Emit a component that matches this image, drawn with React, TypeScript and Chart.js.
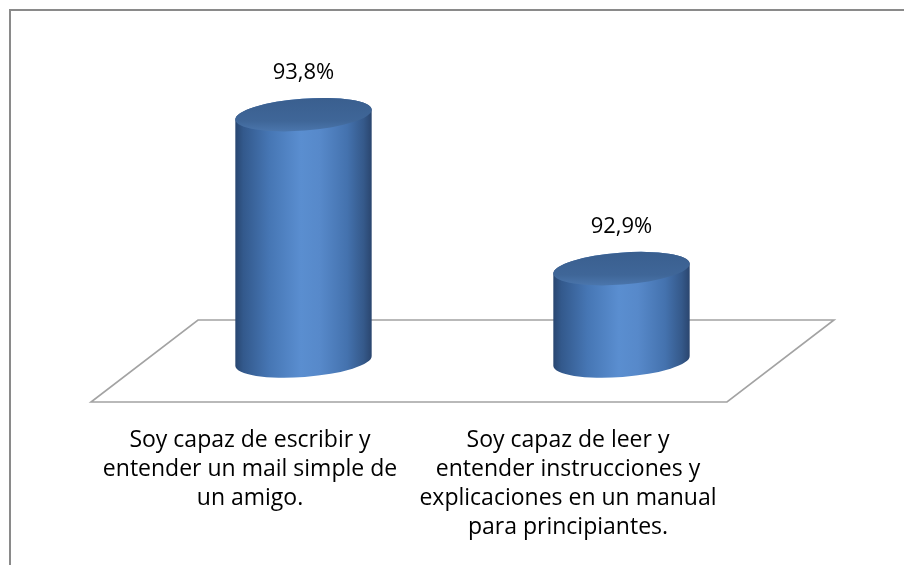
import React, { useEffect, useRef } from "react";
import { Chart, registerables } from "chart.js";

Chart.register(...registerables);

const categories: string[][] = [
  ["Soy capaz de escribir y", "entender un mail simple de", "un amigo."],
  ["Soy capaz de leer y", "entender instrucciones y", "explicaciones en un manual", "para principiantes."],
];
const values: number[] = [93.8, 92.9];
const valueLabels: string[] = ["93,8%", "92,9%"];

const Y_MIN = 92.36;
const Y_MAX = 94.4;
const DEPTH_X = 107;
const DEPTH_Y = -82;
const FONT = "'Open Sans', Lato, sans-serif";

const framePlugin = {
  id: "frame",
  beforeDraw(chart: any) {
    const ctx = chart.ctx;
    ctx.save();
    ctx.fillStyle = "#ffffff";
    ctx.fillRect(0, 0, chart.width, chart.height);
    ctx.strokeStyle = "#8a8a8a";
    ctx.lineWidth = 2;
    ctx.strokeRect(10, 10, chart.width + 20, chart.height + 20);
    ctx.restore();
  },
};

const floorPlugin = {
  id: "floor3d",
  beforeDatasetsDraw(chart: any) {
    const { ctx, chartArea } = chart;
    const { left, right, bottom } = chartArea;
    ctx.save();
    ctx.strokeStyle = "#a3a3a3";
    ctx.lineWidth = 1.6;
    ctx.beginPath();
    ctx.moveTo(left, bottom);
    ctx.lineTo(right, bottom);
    ctx.lineTo(right + DEPTH_X, bottom + DEPTH_Y);
    ctx.lineTo(left + DEPTH_X, bottom + DEPTH_Y);
    ctx.closePath();
    ctx.stroke();
    ctx.restore();
  },
};

const cylinderPlugin = {
  id: "cylinder3d",
  afterDatasetsDraw(chart: any) {
    const ctx = chart.ctx;
    const meta = chart.getDatasetMeta(0);
    const yScale = chart.scales.y;
    const rot = -0.075;
    const ry = 16;
    meta.data.forEach((bar: any, i: number) => {
      const p = bar.getProps(["x", "y", "width"], true);
      const rx = p.width / 2;
      const cx = p.x + DEPTH_X / 2;
      const top = p.y + DEPTH_Y / 2;
      const bot = yScale.getPixelForValue(Y_MIN) + DEPTH_Y / 2;
      ctx.save();
      const g = ctx.createLinearGradient(cx - rx, 0, cx + rx, 0);
      g.addColorStop(0, "#284670");
      g.addColorStop(0.06, "#33598c");
      g.addColorStop(0.25, "#4676b4");
      g.addColorStop(0.48, "#5a8ed0");
      g.addColorStop(0.62, "#5789ca");
      g.addColorStop(0.82, "#4472ae");
      g.addColorStop(0.94, "#35598a");
      g.addColorStop(1, "#2a456e");
      ctx.beginPath();
      ctx.ellipse(cx, bot, rx, ry, rot, 0, Math.PI, false);
      ctx.ellipse(cx, top, rx, ry, rot, Math.PI, 2 * Math.PI, false);
      ctx.closePath();
      ctx.fillStyle = g;
      ctx.fill();
      const tg = ctx.createLinearGradient(0, top - ry, 0, top + ry);
      tg.addColorStop(0, "#3a5f8f");
      tg.addColorStop(0.7, "#3f6698");
      tg.addColorStop(1, "#4a75ab");
      ctx.beginPath();
      ctx.ellipse(cx, top, rx, ry, rot, 0, 2 * Math.PI);
      ctx.fillStyle = tg;
      ctx.fill();
      ctx.fillStyle = "#000000";
      ctx.font = "22px " + FONT;
      ctx.textAlign = "center";
      ctx.textBaseline = "middle";
      ctx.fillText(valueLabels[i], cx, top - ry - 26);
      ctx.restore();
    });
  },
};

export default function App() {
  const ref = useRef<HTMLCanvasElement | null>(null);
  useEffect(() => {
    if (!ref.current) return;
    const chart = new Chart(ref.current, {
      type: "bar",
      data: {
        labels: categories,
        datasets: [
          {
            data: values,
            backgroundColor: "rgba(0,0,0,0)",
            borderWidth: 0,
            barPercentage: 0.43,
            categoryPercentage: 1,
          },
        ],
      },
      options: {
        animation: false,
        responsive: false,
        devicePixelRatio: 1,
        layout: { padding: { left: 91, right: 177, top: 53, bottom: 0 } },
        plugins: { legend: { display: false }, tooltip: { enabled: false } },
        scales: {
          y: { display: false, min: Y_MIN, max: Y_MAX },
          x: {
            grid: { display: false, drawTicks: false },
            border: { display: false },
            afterFit: (scale: any) => {
              scale.height = 163;
            },
            ticks: {
              maxRotation: 0,
              minRotation: 0,
              autoSkip: false,
              padding: 24,
              color: "#000000",
              font: { family: FONT, size: 23, lineHeight: 29 / 23 },
            },
          },
        },
      },
      plugins: [framePlugin, floorPlugin, cylinderPlugin],
    });
    return () => chart.destroy();
  }, []);
  return (
    <div style={{ position: "fixed", left: 0, top: 0, width: 904, height: 565, background: "#fff" }}>
      <canvas ref={ref} width={904} height={565} style={{ display: "block" }} />
    </div>
  );
}
